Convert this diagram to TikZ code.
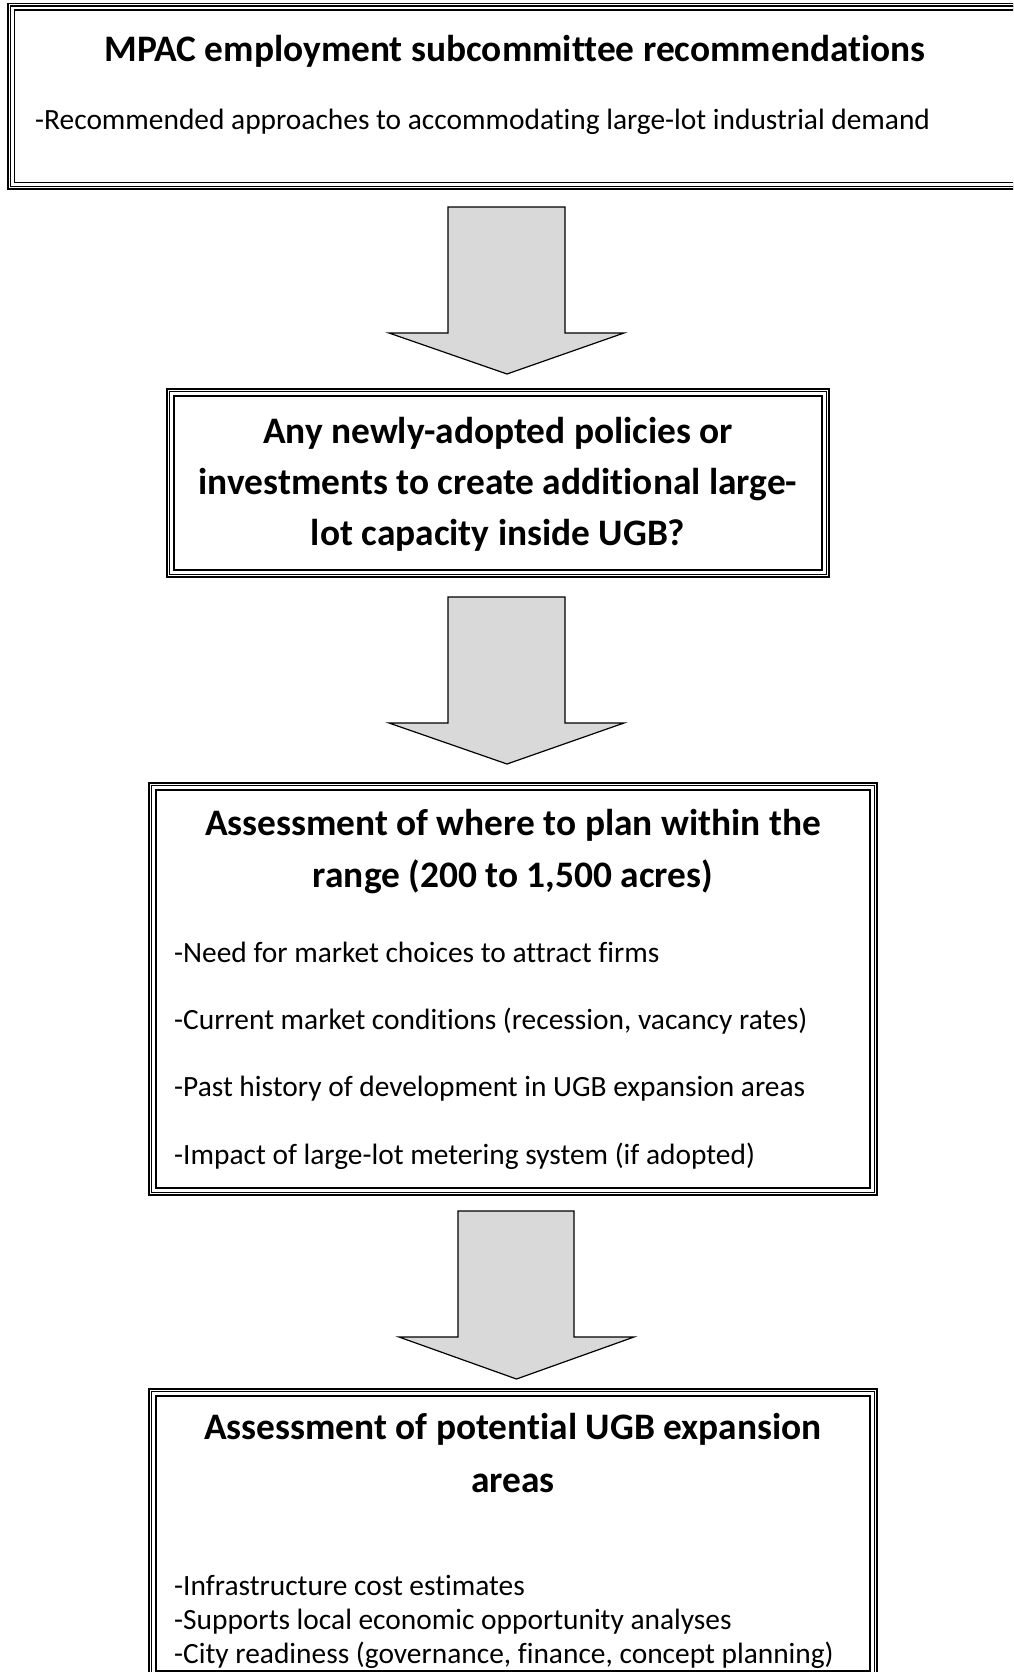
\documentclass[tikz,border=0pt]{standalone}
\usepackage{fontspec}
\setmainfont{Carlito}[Ligatures=NoCommon]
\definecolor{arrowgray}{RGB}{217,217,217}
\begin{document}
\begin{tikzpicture}[x=1pt,y=-1pt,
  tribox/.style={draw=black, line width=1.6pt, double=white, double distance=5pt, rectangle, inner sep=0pt},
  midline/.style={draw=black, line width=1.4pt},
  titletext/.style={font=\fontsize{37.4}{45}\selectfont\bfseries, inner sep=0pt, anchor=mid},
  bodytext/.style={font=\fontsize{29.4}{35}\selectfont, inner sep=0pt, anchor=mid west},
  blockarrow/.style={draw=black, line width=1.2pt, fill=arrowgray, line join=miter}]
\clip (0,0) rectangle (1013,1672);
\fill[white] (0,0) rectangle (1013,1672);

% boxes
\node[tribox, minimum width=1009pt, minimum height=179pt] (b1) at (515.5,96.5) {};
\draw[midline] (b1.north west) rectangle (b1.south east);
\node[tribox, minimum width=655pt, minimum height=181pt] (b2) at (498,483) {};
\draw[midline] (b2.north west) rectangle (b2.south east);
\node[tribox, minimum width=721pt, minimum height=405pt] (b3) at (513,989) {};
\draw[midline] (b3.north west) rectangle (b3.south east);
\node[tribox, minimum width=721pt, minimum height=282pt] (b4) at (513,1533.5) {};
\draw[midline] (b4.north west) rectangle (b4.south east);

% arrows
\draw[blockarrow] (448,207) -- (565,207) -- (565,333) -- (624,333) -- (507,374) -- (389,333) -- (448,333) -- cycle;
\draw[blockarrow] (448,597) -- (565,597) -- (565,723) -- (624,723) -- (507,764) -- (389,723) -- (448,723) -- cycle;
\draw[blockarrow] (458,1211) -- (574,1211) -- (574,1337) -- (634,1337) -- (516.5,1379) -- (399,1337) -- (458,1337) -- cycle;

% box 1 text
\node[titletext] (t1) at (515,59.5) {MPAC employment subcommittee recommendations};
\node[bodytext] (t1a) at (35,127.5) {-Recommended approaches to accommodating large-lot industrial demand};

% box 2 text
\node[titletext] (t2a) at (498,441.5) {Any newly-adopted policies or};
\node[titletext] (t2b) at (498,492.5) {investments to create additional large-};
\node[titletext] (t2c) at (498,543.5) {lot capacity inside UGB?};

% box 3 text
\node[titletext] (t3a) at (513,833.5) {Assessment of where to plan within the};
\node[titletext] (t3b) at (513,885.5) {range (200 to 1,500 acres)};
\node[bodytext] (t3c) at (174,960.5) {-Need for market choices to attract firms};
\node[bodytext] (t3d) at (174,1027.5) {-Current market conditions (recession, vacancy rates)};
\node[bodytext] (t3e) at (174,1094.5) {-Past history of development in UGB expansion areas};
\node[bodytext] (t3f) at (174,1162.5) {-Impact of large-lot metering system (if adopted)};

% box 4 text
\node[titletext] (t4a) at (513,1437.5) {Assessment of potential UGB expansion};
\node[titletext] (t4b) at (513,1490.5) {areas};
\node[bodytext] (t4c) at (174,1593) {-Infrastructure cost estimates};
\node[bodytext] (t4d) at (174,1627) {-Supports local economic opportunity analyses};
\node[bodytext] (t4e) at (174,1661) {-City readiness (governance, finance, concept planning)};
\end{tikzpicture}
\end{document}
